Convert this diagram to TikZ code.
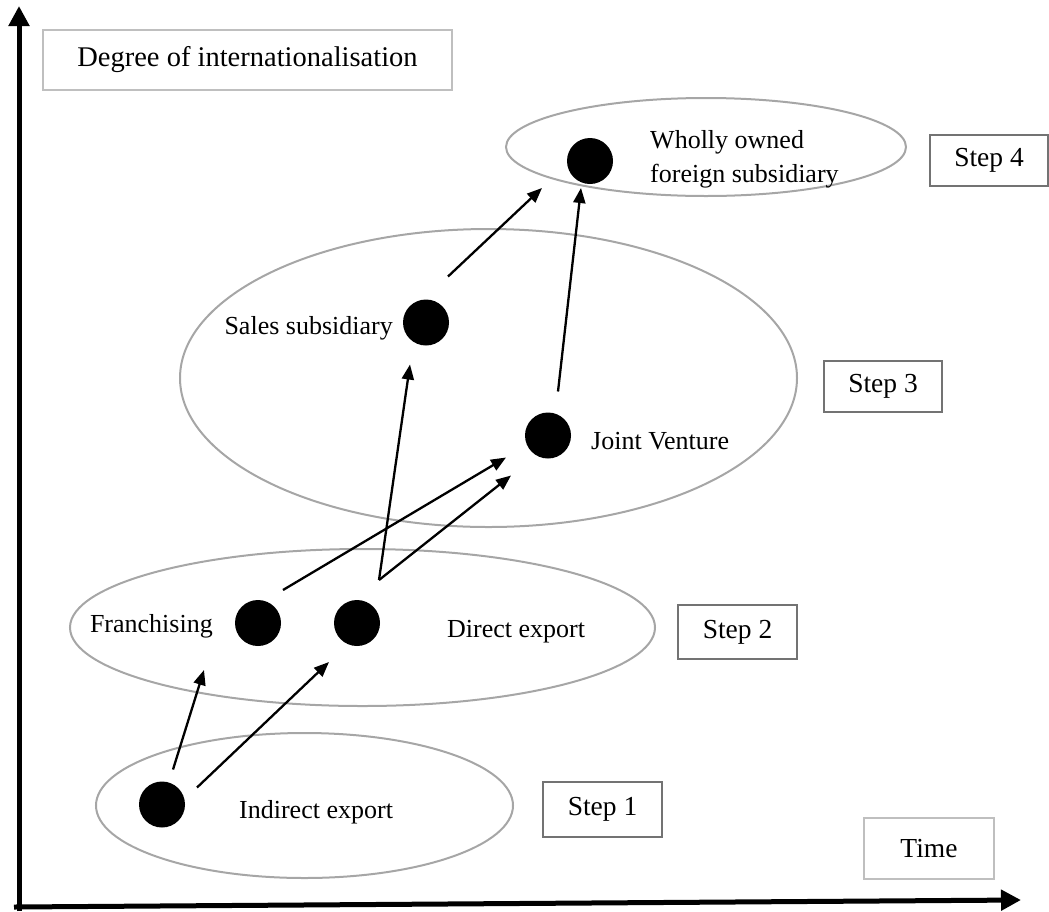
\documentclass[tikz,border=0pt]{standalone}
\usepackage{fontspec}
\setmainfont{Liberation Serif}
\usetikzlibrary{arrows.meta,calc,shapes.geometric}
\begin{document}
\begin{tikzpicture}[x=1pt,y=-1pt,
  lbl/.style={inner sep=0pt, font=\fontsize{26}{34}\selectfont},
  stage/.style={ellipse, draw=black!35, line width=2pt, inner sep=0pt},
  dot/.style={circle, fill=black, inner sep=0pt, minimum size=46pt},
  stepbox/.style={draw=black!55, line width=1.8pt, inner sep=0pt,
    font=\fontsize{27.5}{33}\selectfont},
  infobox/.style={draw=black!25, line width=1.2pt, inner sep=0pt,
    font=\fontsize{27.5}{33}\selectfont},
  flow/.style={line width=2.3pt, -{Triangle[length=15pt,width=12pt]}},
  axis/.style={line width=5pt, -{Triangle[length=20pt,width=20pt]}}
]
\useasboundingbox (0,0) rectangle (1049,911);

% axes
\coordinate (origin) at (19,911);
\coordinate (ytop) at (19,6);
\coordinate (xstart) at (14,907);
\coordinate (xend) at (1021,900);
\draw[axis] (origin) -- (ytop);
\draw[axis] (xstart) -- (xend);

% axis captions
\node[infobox, minimum width=409pt, minimum height=60pt] (degree) at (247.5,60)
  {\fontsize{28.5}{33}\selectfont Degree of internationalisation};
\node[infobox, minimum width=130pt, minimum height=61pt] (time) at (929,848.5) {Time};

% stages
\node[stage, minimum width=400pt, minimum height=98pt] (s4) at (706,147) {};
\node[stage, minimum width=617pt, minimum height=298pt] (s3) at (488.5,378) {};
\node[stage, minimum width=585pt, minimum height=157pt] (s2) at (362.5,627.5) {};
\node[stage, minimum width=417pt, minimum height=145pt] (s1) at (304.5,805.5) {};

% step labels
\node[stepbox, minimum width=118pt, minimum height=51pt] (st4) at (989,160.5) {Step 4};
\node[stepbox, minimum width=118pt, minimum height=51pt] (st3) at (883,386.5) {Step 3};
\node[stepbox, minimum width=119pt, minimum height=54pt] (st2) at (737.5,632) {Step 2};
\node[stepbox, minimum width=119pt, minimum height=55pt] (st1) at (602.5,809.5) {Step 1};

% entry modes
\node[dot] (wos) at (590,161) {};
\node[dot] (sal) at (426,322.5) {};
\node[dot] (jv)  at (548,435.5) {};
\node[dot] (fra) at (258,623) {};
\node[dot] (dir) at (357,623) {};
\node[dot] (ind) at (162,804.5) {};

% the base anchor of a two-line label sits on its last line
\node[lbl, anchor=base west, align=left] (woslbl) at (650,182)
  {Wholly owned\\foreign subsidiary};
\node[lbl, anchor=base east] (sallbl) at (393,334) {Sales subsidiary};
\node[lbl, anchor=base west] (jvlbl) at (591,449) {Joint Venture};
\node[lbl, anchor=base east] (fralbl) at (213,632) {Franchising};
\node[lbl, anchor=base west] (dirlbl) at (447,637) {Direct export};
\node[lbl, anchor=base west] (indlbl) at (239,818) {Indirect export};

% development paths
\draw[flow] ($(ind)+(11,-35)$) -- ($(fra)+(-54,47)$);
\draw[flow] ($(ind)+(35,-17)$) -- ($(dir)+(-28,39)$);
\draw[flow] ($(fra)+(25,-33)$) -- ($(jv)+(-42,22)$);
\draw[flow] ($(dir)+(22,-43)$) -- ($(sal)+(-16,42)$);
\draw[flow] ($(dir)+(22,-43)$) -- ($(jv)+(-37,40)$);
\draw[flow] ($(sal)+(22,-46)$) -- ($(wos)+(-48,27)$);
\draw[flow] ($(jv)+(10,-44)$) -- ($(wos)+(-9,27)$);
\end{tikzpicture}
\end{document}
